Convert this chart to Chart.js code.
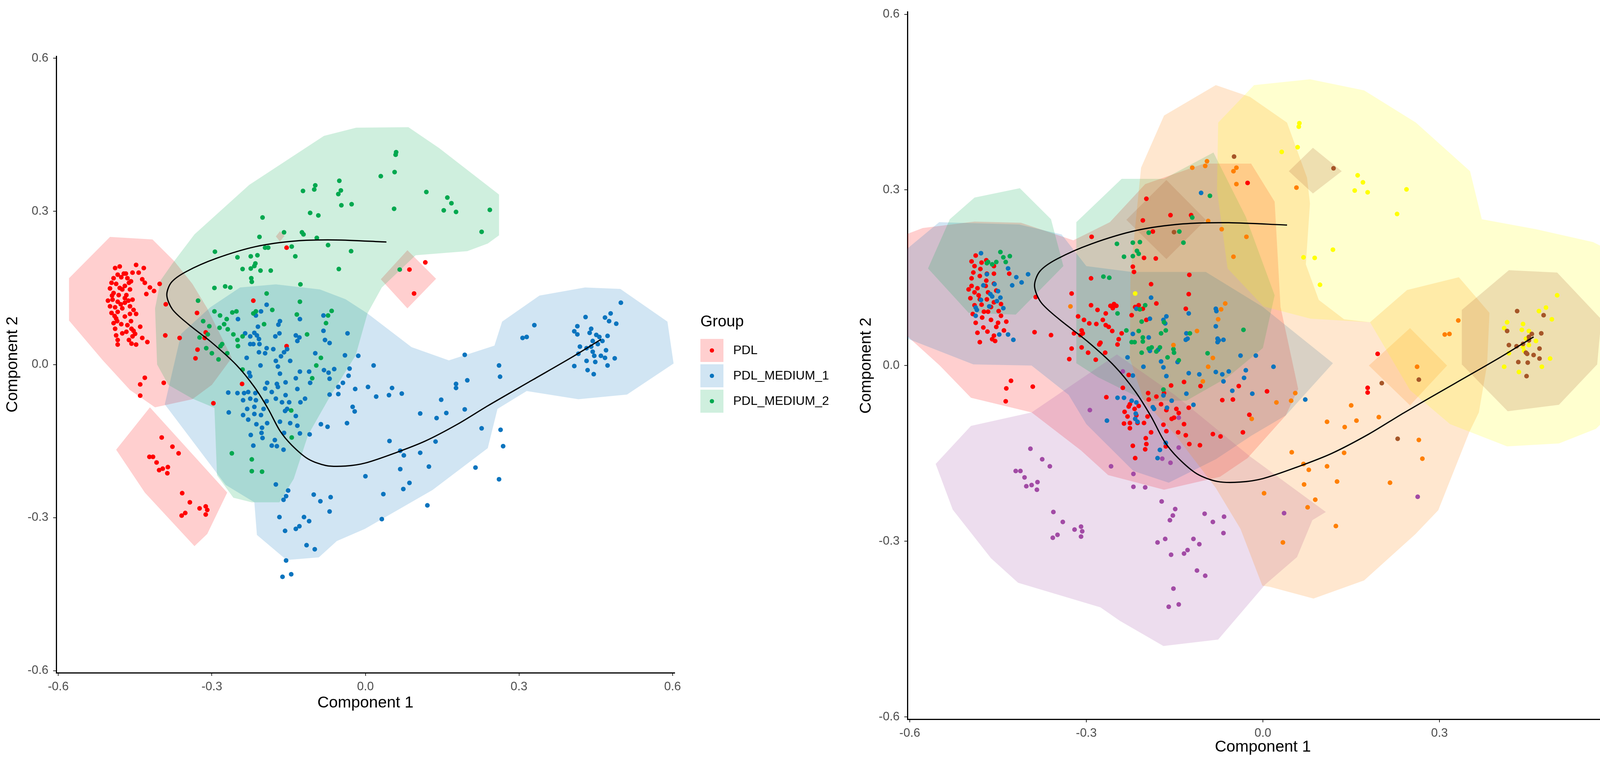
<!DOCTYPE html>
<html lang="en">
<head>
<meta charset="UTF-8">
<title>Component 1 / Component 2</title>
<script src="https://cdn.jsdelivr.net/npm/chart.js@4.4.1/dist/chart.umd.min.js"></script>
<style>
  html, body { margin: 0; padding: 0; background: #fff; }
  body { width: 4348px; height: 1990px; position: relative; overflow: hidden; }
  .panel { position: absolute; top: 0; height: 1990px; }
  #panelLeft { left: 0; width: 2174px; }
  #panelRight { left: 2180px; width: 2168px; }
</style>
</head>
<body>
<div class="panel" id="panelLeft"><canvas id="chartLeft"></canvas></div>
<div class="panel" id="panelRight"><canvas id="chartRight"></canvas></div>

<script>
// ---- axis ----
const axisTicks = [-0.6, -0.3, 0.0, 0.3, 0.6];
const xTitle = 'Component 1';
const yTitle = 'Component 2';

// ---- trajectory (same in both panels) ----
const trajectory = [[0.041,0.240],[-0.058,0.244],[-0.136,0.242],[-0.214,0.231],[-0.291,0.208],[-0.350,0.182],[-0.379,0.161],[-0.388,0.136],[-0.377,0.108],[-0.346,0.079],[-0.299,0.042],[-0.252,-0.001],[-0.217,-0.044],[-0.190,-0.087],[-0.167,-0.130],[-0.144,-0.158],[-0.112,-0.185],[-0.077,-0.198],[-0.039,-0.199],[0.000,-0.193],[0.059,-0.173],[0.117,-0.150],[0.180,-0.117],[0.239,-0.081],[0.327,-0.030],[0.403,0.014],[0.460,0.049]];

// ---- left panel groups ----
const leftGroups = ['PDL', 'PDL_MEDIUM_1', 'PDL_MEDIUM_2'];
const leftColors = ['#FF0000', '#0A74BE', '#00A84F'];

const pdl = [[-0.489,0.189],[-0.480,0.192],[-0.448,0.195],[-0.433,0.189],[-0.443,0.180],[-0.455,0.180],[-0.472,0.178],[-0.484,0.176],[-0.477,0.171],[-0.492,0.169],[-0.465,0.169],[-0.436,0.167],[-0.462,0.160],[-0.496,0.160],[-0.431,0.160],[-0.487,0.158],[-0.470,0.154],[-0.421,0.151],[-0.499,0.149],[-0.475,0.147],[-0.460,0.147],[-0.428,0.138],[-0.413,0.144],[-0.492,0.140],[-0.482,0.136],[-0.467,0.136],[-0.494,0.127],[-0.455,0.127],[-0.484,0.123],[-0.470,0.121],[-0.499,0.114],[-0.460,0.114],[-0.489,0.112],[-0.475,0.110],[-0.453,0.107],[-0.484,0.103],[-0.496,0.101],[-0.460,0.099],[-0.470,0.094],[-0.487,0.090],[-0.448,0.099],[-0.492,0.081],[-0.477,0.079],[-0.465,0.077],[-0.457,0.070],[-0.440,0.074],[-0.489,0.070],[-0.467,0.064],[-0.453,0.066],[-0.475,0.061],[-0.487,0.057],[-0.455,0.055],[-0.436,0.052],[-0.462,0.048],[-0.484,0.048],[-0.457,0.041],[-0.426,0.044],[-0.484,0.039],[-0.448,0.039],[-0.495,0.135],[-0.480,0.150],[-0.470,0.130],[-0.490,0.095],[-0.478,0.118],[-0.463,0.125],[-0.503,0.125],[-0.485,0.085],[-0.458,0.085],[-0.450,0.060],[-0.468,0.178],[-0.458,0.163],
  [-0.402,0.158],[-0.390,0.118],[-0.391,0.057],[-0.363,0.052],[-0.329,0.101],[-0.312,0.063],[-0.314,0.052],[-0.328,0.029],[-0.332,0.012],[-0.219,0.125],[-0.154,0.036],[-0.154,0.229],[-0.241,-0.038],[-0.431,-0.026],[-0.440,-0.039],[-0.394,-0.036],[-0.440,-0.061],[-0.297,-0.076],
  [-0.398,-0.143],[-0.377,-0.161],[-0.365,-0.174],[-0.422,-0.181],[-0.415,-0.181],[-0.408,-0.192],[-0.403,-0.207],[-0.396,-0.204],[-0.386,-0.201],[-0.387,-0.213],[-0.358,-0.252],[-0.343,-0.270],[-0.352,-0.291],[-0.359,-0.296],[-0.324,-0.282],[-0.312,-0.278],[-0.309,-0.285],[-0.312,-0.294],
  [0.117,0.200],[0.086,0.186],[0.095,0.139]];

const pdlMedium1 = [[-0.193,0.117],[-0.204,0.104],[-0.214,0.096],[-0.249,0.089],[-0.128,0.089],[-0.082,0.096],[-0.167,0.085],[-0.170,0.078],[-0.210,0.074],[-0.235,0.061],[-0.217,0.062],[-0.212,0.057],[-0.225,0.055],[-0.176,0.055],[-0.168,0.061],[-0.136,0.057],[-0.129,0.053],[-0.133,0.046],[-0.082,0.066],[-0.079,0.048],[-0.070,0.042],[-0.035,0.061],[-0.208,0.050],[-0.207,0.040],[-0.225,0.040],[-0.219,0.040],[-0.193,0.032],[-0.208,0.024],[-0.196,0.022],[-0.180,0.030],[-0.159,0.024],[-0.153,0.030],[-0.165,0.016],[-0.175,0.007],[-0.147,0.007],[-0.232,0.013],[-0.098,0.022],[-0.040,0.018],[-0.014,0.017],[0.016,-0.002],[-0.205,-0.002],[-0.171,-0.004],[-0.128,-0.014],[-0.110,-0.014],[-0.081,-0.011],[-0.072,-0.016],[-0.061,-0.009],[-0.031,-0.008],[-0.033,-0.022],[-0.167,-0.018],[-0.227,-0.016],[-0.225,-0.023],[-0.136,-0.027],[-0.070,-0.028],[-0.044,-0.036],[-0.108,-0.036],[-0.192,-0.036],[-0.173,-0.038],[-0.156,-0.035],[-0.171,-0.044],[-0.133,-0.048],[-0.268,-0.055],[-0.250,-0.056],[-0.237,-0.056],[-0.229,-0.054],[-0.215,-0.056],[-0.196,-0.047],[-0.183,-0.054],[-0.156,-0.060],[-0.053,-0.044],[-0.053,-0.058],[-0.020,-0.048],[0.005,-0.044],[0.021,-0.063],[0.046,-0.060],[0.052,-0.046],[0.071,-0.057],[-0.070,-0.059],[-0.239,-0.070],[-0.225,-0.067],[-0.214,-0.070],[-0.193,-0.072],[-0.175,-0.067],[-0.163,-0.074],[-0.149,-0.074],[-0.127,-0.074],[-0.118,-0.067],[-0.217,-0.083],[-0.231,-0.087],[-0.199,-0.087],[-0.157,-0.091],[-0.153,-0.087],[-0.267,-0.094],[-0.239,-0.099],[-0.217,-0.097],[-0.204,-0.099],[-0.136,-0.101],[-0.229,-0.108],[-0.192,-0.115],[-0.167,-0.112],[-0.147,-0.115],[-0.213,-0.117],[-0.133,-0.120],[-0.202,-0.124],[-0.087,-0.117],[-0.074,-0.122],[-0.036,-0.115],[-0.025,-0.083],[-0.021,-0.092],[0.107,-0.096],[0.139,-0.105],[0.158,-0.095],[0.194,-0.088],[0.148,-0.069],[0.177,-0.038],[0.177,-0.046],[0.194,0.019],[0.199,-0.031],[-0.224,-0.138],[-0.203,-0.134],[-0.177,-0.148],[-0.128,-0.135],[-0.109,-0.137],[-0.159,-0.134],[-0.201,-0.144],[-0.160,-0.167],[-0.173,-0.160],[-0.183,-0.159],[-0.219,-0.159],[0.047,-0.150],[0.137,-0.151],[0.075,-0.178],[0.068,-0.169],[0.107,-0.173],[0.068,-0.205],[0.124,-0.200],[0.000,-0.219],[0.086,-0.232],[0.074,-0.244],[-0.175,-0.235],[-0.151,-0.247],[-0.155,-0.258],[-0.160,-0.265],[-0.101,-0.255],[-0.088,-0.268],[-0.068,-0.260],[0.035,-0.254],[0.121,-0.276],
  [-0.168,-0.299],[-0.157,-0.326],[-0.136,-0.322],[-0.129,-0.317],[-0.120,-0.299],[-0.110,-0.307],[-0.070,-0.288],[-0.115,-0.354],[-0.099,-0.362],[-0.155,-0.384],[-0.162,-0.416],[-0.145,-0.411],[0.032,-0.303],
  [0.330,0.077],[0.307,0.052],[0.315,0.054],[0.261,-0.002],[0.263,-0.024],[0.227,-0.125],[0.264,-0.128],[0.269,-0.160],[0.215,-0.202],[0.261,-0.225],
  [0.499,0.121],[0.479,0.100],[0.468,0.092],[0.476,0.085],[0.490,0.080],[0.430,0.093],[0.414,0.075],[0.408,0.065],[0.414,0.059],[0.441,0.070],[0.438,0.062],[0.451,0.058],[0.457,0.054],[0.473,0.056],[0.444,0.046],[0.463,0.046],[0.454,0.040],[0.441,0.035],[0.419,0.035],[0.432,0.032],[0.470,0.028],[0.444,0.025],[0.447,0.017],[0.460,0.017],[0.416,0.021],[0.468,0.013],[0.487,0.012],[0.432,0.007],[0.449,0.005],[0.408,-0.003],[0.473,-0.002],[0.434,-0.011],[0.446,-0.019]];

const pdlMedium2 = [[0.060,0.416],[0.059,0.411],[0.057,0.377],[0.030,0.369],[0.119,0.338],[0.160,0.327],[0.168,0.316],[0.153,0.302],[0.177,0.299],[0.056,0.305],[0.243,0.303],[0.227,0.260],[-0.027,0.314],[-0.051,0.360],[-0.048,0.341],[-0.053,0.334],[-0.047,0.312],[-0.122,0.340],[-0.098,0.351],[-0.100,0.343],[-0.108,0.297],[-0.092,0.292],[0.067,0.186],[-0.028,0.222],
  [-0.201,0.288],[-0.159,0.259],[-0.124,0.259],[-0.121,0.255],[-0.207,0.250],[-0.095,0.248],[-0.073,0.234],[-0.144,0.231],[-0.196,0.229],[-0.190,0.229],[-0.294,0.221],[-0.250,0.210],[-0.224,0.212],[-0.211,0.214],[-0.137,0.212],[-0.215,0.198],[-0.217,0.193],[-0.240,0.187],[-0.224,0.188],[-0.205,0.184],[-0.185,0.184],[-0.052,0.187],[-0.223,0.169],[-0.222,0.162],[-0.295,0.150],[-0.274,0.153],[-0.264,0.151],[-0.127,0.157],[-0.193,0.139],[-0.327,0.125],[-0.128,0.123],[-0.295,0.104],[-0.284,0.096],[-0.260,0.102],[-0.252,0.104],[-0.219,0.100],[-0.214,0.104],[-0.182,0.107],[-0.134,0.098],[-0.066,0.105],[-0.073,0.096],[-0.317,0.085],[-0.271,0.089],[-0.276,0.079],[-0.305,0.075],[-0.285,0.072],[-0.198,0.079],[-0.077,0.081],[-0.269,0.069],[-0.258,0.059],[-0.308,0.059],[-0.324,0.053],[-0.240,0.055],[-0.250,0.048],[-0.114,0.059],[-0.311,0.032],[-0.283,0.036],[-0.280,0.040],[-0.300,0.022],[-0.287,0.010],[-0.270,0.022],[-0.249,0.036],[-0.087,0.013],[-0.096,-0.002],[-0.240,-0.010],[-0.104,-0.027],[-0.145,-0.090],[-0.144,-0.143],[-0.261,-0.174],[-0.222,-0.186],[-0.222,-0.209],[-0.202,-0.210]];

// left hull outlines (data units)
const pdlHullMain = [[-0.579,0.169],[-0.499,0.250],[-0.416,0.245],[-0.373,0.202],[-0.338,0.158],[-0.309,0.110],[-0.261,0.013],[-0.300,-0.040],[-0.338,-0.068],[-0.411,-0.084],[-0.460,-0.050],[-0.513,0.008],[-0.579,0.086]];
const pdlHullLow = [[-0.421,-0.084],[-0.487,-0.167],[-0.431,-0.251],[-0.334,-0.356],[-0.309,-0.332],[-0.270,-0.251]];
const pdlHullSide = [[0.030,0.167],[0.082,0.224],[0.138,0.168],[0.082,0.110]];
const pdlHullTiny = [[-0.175,0.251],[-0.167,0.261],[-0.158,0.252],[-0.167,0.241]];
const medium1Hull = [[-0.392,-0.078],[-0.360,0.060],[-0.303,0.112],[-0.245,0.151],[-0.175,0.157],[-0.089,0.147],[-0.039,0.128],[0.004,0.100],[0.090,0.034],[0.163,0.008],[0.252,0.037],[0.267,0.084],[0.340,0.135],[0.429,0.151],[0.498,0.148],[0.590,0.084],[0.602,0.002],[0.511,-0.059],[0.416,-0.068],[0.315,-0.052],[0.258,-0.087],[0.239,-0.164],[0.131,-0.246],[-0.001,-0.322],[-0.056,-0.346],[-0.091,-0.378],[-0.154,-0.383],[-0.212,-0.334],[-0.217,-0.270],[-0.273,-0.236]];
const medium2Hull = [[-0.400,0.165],[-0.377,0.198],[-0.334,0.255],[-0.227,0.352],[-0.081,0.448],[-0.018,0.464],[0.084,0.465],[0.144,0.424],[0.261,0.333],[0.261,0.253],[0.239,0.237],[0.199,0.222],[0.098,0.214],[0.032,0.151],[0.004,0.100],[-0.019,0.018],[-0.070,-0.064],[-0.112,-0.138],[-0.140,-0.224],[-0.168,-0.270],[-0.222,-0.270],[-0.258,-0.261],[-0.290,-0.217],[-0.295,-0.085],[-0.338,-0.067],[-0.385,-0.040],[-0.407,0.000],[-0.411,0.110]];

// ---- right panel groups ----
const rightGroups = ['0', '1', '2', '3', '4', '5', '6'];
const rightColors = ['#FF0000', '#0A74BE', '#00A84F', '#A24BA5', '#FF7F00', '#FFFF00', '#A65628'];

const cluster0 = [[-0.488,0.188],[-0.478,0.176],[-0.490,0.170],[-0.492,0.159],[-0.495,0.149],[-0.481,0.153],[-0.469,0.157],[-0.457,0.170],[-0.457,0.157],[-0.495,0.136],[-0.485,0.132],[-0.471,0.136],[-0.457,0.140],[-0.490,0.125],[-0.467,0.125],[-0.453,0.128],[-0.497,0.115],[-0.481,0.113],[-0.469,0.113],[-0.478,0.104],[-0.490,0.103],[-0.457,0.108],[-0.474,0.092],[-0.467,0.092],[-0.477,0.082],[-0.462,0.078],[-0.450,0.073],[-0.436,0.075],[-0.488,0.073],[-0.453,0.066],[-0.485,0.056],[-0.460,0.045],[-0.455,0.042],[-0.481,0.040],[-0.457,0.051],[-0.431,0.157],[-0.470,0.180],[-0.500,0.130],[-0.483,0.120],[-0.462,0.100],[-0.493,0.088],[-0.475,0.065],[-0.445,0.085],[-0.470,0.145],[-0.480,0.165],[-0.445,0.105],[-0.440,0.060],[-0.495,0.178],[-0.468,0.058],[-0.449,0.093],
  [-0.386,0.117],[-0.388,0.057],[-0.360,0.052],[-0.291,0.220],[-0.292,0.149],[-0.325,0.123],[-0.292,0.103],[-0.281,0.095],[-0.259,0.102],[-0.255,0.098],[-0.249,0.102],[-0.253,0.105],[-0.267,0.089],[-0.314,0.084],[-0.304,0.078],[-0.295,0.072],[-0.283,0.071],[-0.272,0.078],[-0.267,0.069],[-0.262,0.066],[-0.256,0.059],[-0.308,0.060],[-0.306,0.055],[-0.310,0.052],[-0.321,0.055],[-0.325,0.029],[-0.308,0.031],[-0.297,0.022],[-0.329,0.011],[-0.284,0.010],[-0.268,0.022],[-0.278,0.036],[-0.276,0.039],[-0.247,0.036],[-0.240,0.055],[-0.245,0.045],[-0.223,0.086],[-0.217,0.100],[-0.211,0.103],[-0.204,0.097],[-0.198,0.078],[-0.190,0.139],[-0.181,0.106],[-0.221,0.169],[-0.219,0.160],[-0.202,0.184],[-0.182,0.183],[-0.204,0.248],[-0.198,0.285],[-0.157,0.257],[-0.122,0.257],[-0.187,0.229],[-0.125,0.155],[-0.126,0.122],[-0.131,0.097],[-0.026,0.312],[-0.228,-0.016],[-0.238,-0.038],[-0.266,-0.054],[-0.226,-0.066],[-0.228,-0.070],[-0.218,-0.074],[-0.211,-0.069],[-0.235,-0.079],[-0.230,-0.087],[-0.215,-0.085],[-0.226,-0.098],[-0.213,-0.098],[-0.202,-0.098],[-0.196,-0.087],[-0.236,-0.099],[-0.226,-0.107],[-0.190,-0.114],[-0.199,-0.124],[-0.198,-0.134],[-0.221,-0.137],[-0.200,-0.143],[-0.217,-0.158],[-0.195,-0.047],[-0.181,-0.053],[-0.173,-0.066],[-0.194,-0.058],[-0.156,-0.034],[-0.168,-0.047],[-0.164,-0.076],[-0.147,-0.074],[-0.143,-0.081],[-0.151,-0.089],[-0.155,-0.091],[-0.169,-0.101],[-0.164,-0.112],[-0.144,-0.114],[-0.134,-0.100],[-0.131,-0.119],[-0.126,-0.072],[-0.134,-0.028],[-0.106,-0.035],[-0.125,-0.134],[-0.107,-0.136],[-0.165,-0.138],[-0.085,-0.117],[-0.072,-0.121],[-0.034,-0.114],[-0.069,-0.059],[-0.051,-0.058],[-0.041,-0.035],[-0.023,-0.084],[0.007,-0.044],[-0.428,-0.026],[-0.436,-0.039],[-0.437,-0.061],[-0.391,-0.036],[0.195,0.020],[0.178,-0.038],[0.178,-0.046]];

const cluster1 = [[-0.479,0.192],[-0.433,0.166],[-0.419,0.151],[-0.399,0.156],[-0.426,0.137],[-0.410,0.142],[-0.475,0.137],[-0.463,0.122],[-0.460,0.118],[-0.450,0.127],[-0.446,0.116],[-0.452,0.110],[-0.441,0.098],[-0.465,0.101],[-0.488,0.099],[-0.486,0.095],[-0.488,0.085],[-0.479,0.112],[-0.448,0.053],[-0.433,0.053],[-0.424,0.044],[-0.469,0.156],[-0.456,0.139],
  [-0.105,0.295],[-0.221,-0.017],[-0.190,0.116],[-0.215,0.097],[-0.192,0.080],[-0.169,0.078],[-0.164,0.084],[-0.166,0.072],[-0.221,0.054],[-0.194,0.048],[-0.130,0.055],[-0.128,0.046],[-0.131,0.044],[-0.126,0.089],[-0.080,0.097],[-0.079,0.093],[-0.080,0.067],[-0.077,0.046],[-0.075,0.043],[-0.067,0.044],[-0.077,0.040],[-0.230,0.014],[-0.203,-0.002],[-0.178,0.027],[-0.192,0.025],[-0.173,0.007],[-0.169,-0.003],[-0.164,-0.018],[-0.145,0.006],[-0.126,-0.013],[-0.108,-0.015],[-0.080,-0.011],[-0.069,-0.015],[-0.067,-0.027],[-0.058,-0.010],[-0.038,0.017],[-0.012,0.017],[-0.029,-0.008],[-0.032,-0.021],[0.018,-0.002],[-0.052,-0.043],[-0.018,-0.048],[0.072,-0.058],[-0.130,-0.048],[-0.118,-0.067],[-0.169,-0.051],[-0.155,-0.060],[-0.163,-0.072],[-0.187,-0.071],[-0.185,-0.074],[-0.247,-0.055],[-0.236,-0.055],[-0.223,-0.060],[-0.215,-0.063],[-0.216,-0.082],[-0.217,-0.091],[-0.213,-0.096],[-0.265,-0.094],[-0.175,-0.144],[-0.179,-0.158],[-0.165,-0.132]];

const cluster2 = [[-0.467,0.177],[-0.469,0.175],[-0.446,0.194],[-0.441,0.185],[-0.430,0.187],[-0.453,0.177],[-0.437,0.177],[-0.460,0.173],
  [-0.090,0.290],[-0.120,0.253],[-0.142,0.229],[-0.194,0.227],[-0.135,0.210],[-0.248,0.208],[-0.221,0.210],[-0.209,0.211],[-0.236,0.186],[-0.221,0.187],[-0.214,0.196],[-0.211,0.191],[-0.271,0.152],[-0.261,0.150],[-0.247,0.089],[-0.209,0.096],[-0.200,0.103],[-0.206,0.075],[-0.168,0.074],[-0.165,0.060],[-0.211,0.059],[-0.232,0.060],[-0.204,0.048],[-0.204,0.041],[-0.223,0.040],[-0.218,0.040],[-0.173,0.055],[-0.194,0.029],[-0.189,0.031],[-0.175,0.031],[-0.206,0.022],[-0.181,0.024],[-0.152,0.028],[-0.151,0.022],[-0.162,0.014],[-0.143,0.009],[-0.094,0.021],[-0.033,0.061],[-0.124,0.055],[-0.169,-0.041]];

const cluster3 = [[-0.294,-0.076],[-0.238,-0.010],[-0.258,-0.172],[-0.220,-0.185],[-0.220,-0.207],[-0.200,-0.208],[-0.171,-0.159],[-0.157,-0.166],[-0.143,-0.140],[-0.143,-0.089],[-0.172,-0.232],[-0.149,-0.245],[-0.153,-0.256],[-0.158,-0.264],[-0.179,-0.302],[-0.166,-0.296],[-0.156,-0.323],[-0.134,-0.321],[-0.128,-0.315],[-0.118,-0.296],[-0.108,-0.305],[-0.099,-0.253],[-0.085,-0.267],[-0.066,-0.258],[-0.067,-0.286],[-0.112,-0.350],[-0.098,-0.359],[-0.152,-0.381],[-0.160,-0.412],[-0.143,-0.408],[0.036,-0.252],[-0.395,-0.142],[-0.375,-0.160],[-0.362,-0.172],[-0.420,-0.180],[-0.412,-0.180],[-0.405,-0.191],[-0.402,-0.206],[-0.393,-0.204],[-0.383,-0.199],[-0.384,-0.212],[-0.356,-0.250],[-0.340,-0.267],[-0.320,-0.280],[-0.309,-0.275],[-0.307,-0.283],[-0.309,-0.292],[-0.349,-0.289],[-0.357,-0.294],[0.263,-0.224]];

const cluster4 = [[-0.120,0.338],[-0.098,0.341],[-0.095,0.349],[-0.050,0.332],[-0.045,0.338],[-0.045,0.310],[-0.093,0.247],[-0.070,0.233],[-0.028,0.220],[-0.050,0.186],[-0.327,0.101],[-0.064,0.106],[-0.071,0.096],[-0.076,0.079],[-0.112,0.059],[-0.152,0.035],[-0.085,0.013],[-0.093,-0.002],[-0.102,-0.027],[0.057,0.304],[0.055,-0.047],[0.048,-0.060],[0.023,-0.063],[-0.019,-0.091],[0.109,-0.096],[0.139,-0.105],[0.049,-0.148],[0.069,-0.168],[0.078,-0.178],[0.109,-0.172],[0.126,-0.198],[0.070,-0.203],[0.332,0.077],[0.309,0.053],[0.317,0.054],[0.262,-0.002],[0.150,-0.068],[0.197,-0.088],[0.159,-0.094],[0.265,-0.127],[0.271,-0.159],[0.138,-0.149],[0.216,-0.200],[0.002,-0.218],[0.089,-0.229],[0.076,-0.242],[0.124,-0.274],[0.034,-0.302]];

const cluster5 = [[0.062,0.414],[0.061,0.408],[0.032,0.365],[0.059,0.373],[0.161,0.325],[0.170,0.313],[0.156,0.299],[0.178,0.296],[0.244,0.301],[0.228,0.259],[0.119,0.198],[0.069,0.185],[0.088,0.184],[0.097,0.138],[0.500,0.120],[0.469,0.093],[0.481,0.099],[0.491,0.079],[0.415,0.074],[0.410,0.064],[0.442,0.071],[0.440,0.061],[0.452,0.059],[0.464,0.042],[0.447,0.046],[0.442,0.032],[0.418,0.021],[0.444,0.025],[0.488,0.012],[0.410,-0.002],[0.474,-0.002],[0.435,-0.011],[0.452,0.035],[-0.217,0.123]];

const cluster6 = [[0.120,0.337],[0.432,0.093],[0.477,0.086],[0.415,0.059],[0.457,0.054],[0.452,0.049],[0.473,0.055],[0.418,0.035],[0.431,0.033],[0.442,0.037],[0.452,0.043],[0.447,0.022],[0.449,0.020],[0.460,0.018],[0.470,0.029],[0.470,0.012],[0.434,0.006],[0.450,0.005],[0.448,-0.018],[0.202,-0.030],[0.265,-0.024],[0.229,-0.125],[-0.049,0.357],[-0.151,0.228]];

// right hull outlines (data units)
const c0Hull = [[-0.604,0.225],[-0.578,0.235],[-0.490,0.246],[-0.411,0.244],[-0.322,0.214],[-0.260,0.245],[-0.200,0.310],[-0.100,0.345],[-0.020,0.345],[0.020,0.280],[0.030,0.100],[0.060,-0.040],[0.039,-0.085],[-0.026,-0.158],[-0.073,-0.190],[-0.168,-0.212],[-0.263,-0.187],[-0.309,-0.145],[-0.393,-0.080],[-0.496,-0.055],[-0.549,0.000],[-0.604,0.050]];
const c1Hull = [[-0.604,0.200],[-0.550,0.245],[-0.414,0.241],[-0.342,0.224],[-0.300,0.170],[-0.223,0.160],[-0.097,0.160],[0.000,0.100],[0.119,0.004],[0.039,-0.085],[-0.020,-0.120],[-0.080,-0.160],[-0.160,-0.200],[-0.220,-0.180],[-0.300,-0.100],[-0.330,-0.050],[-0.393,0.000],[-0.492,0.002],[-0.604,0.046]];
const c2HullLeft = [[-0.569,0.166],[-0.532,0.250],[-0.490,0.287],[-0.413,0.303],[-0.360,0.250],[-0.339,0.170],[-0.420,0.087],[-0.500,0.090]];
const c2HullMid = [[-0.317,0.245],[-0.240,0.319],[-0.168,0.319],[-0.084,0.364],[-0.029,0.254],[0.020,0.120],[0.000,0.030],[-0.060,-0.020],[-0.130,-0.060],[-0.200,-0.060],[-0.280,-0.020],[-0.317,0.004]];
const c3Hull = [[-0.248,0.019],[-0.150,-0.050],[-0.022,-0.155],[0.107,-0.250],[0.084,-0.264],[0.058,-0.327],[0.004,-0.374],[-0.076,-0.468],[-0.169,-0.479],[-0.243,-0.436],[-0.276,-0.413],[-0.416,-0.371],[-0.462,-0.329],[-0.527,-0.246],[-0.556,-0.168],[-0.496,-0.103],[-0.393,-0.080]];
const c4Hull = [[-0.207,0.338],[-0.168,0.427],[-0.080,0.479],[-0.022,0.459],[0.041,0.415],[0.075,0.321],[0.080,0.277],[0.073,0.173],[0.095,0.112],[0.138,0.079],[0.182,0.074],[0.245,0.129],[0.333,0.151],[0.385,0.090],[0.381,0.002],[0.367,-0.080],[0.351,-0.113],[0.298,-0.247],[0.259,-0.288],[0.172,-0.367],[0.086,-0.398],[0.012,-0.378],[-0.001,-0.376],[-0.038,-0.279],[-0.080,-0.209],[-0.149,-0.118],[-0.202,-0.061],[-0.226,0.012],[-0.225,0.156]];
const c4HullSide = [[0.180,0.000],[0.250,0.064],[0.313,0.000],[0.250,-0.068]];
const c5Hull = [[-0.076,0.415],[-0.015,0.479],[0.080,0.489],[0.172,0.470],[0.260,0.415],[0.352,0.332],[0.372,0.250],[0.464,0.233],[0.561,0.211],[0.605,0.189],[0.605,-0.069],[0.566,-0.108],[0.503,-0.133],[0.415,-0.138],[0.318,-0.100],[0.250,-0.042],[0.182,0.074],[0.081,0.080],[0.001,0.101],[-0.060,0.166],[-0.078,0.300]];
const c6HullMain = [[0.418,0.163],[0.500,0.159],[0.575,0.079],[0.568,0.002],[0.503,-0.067],[0.416,-0.078],[0.338,0.002],[0.338,0.095]];
const c6HullTop = [[0.044,0.332],[0.085,0.372],[0.134,0.332],[0.085,0.294]];
const c6HullMid = [[-0.232,0.249],[-0.164,0.317],[-0.097,0.249],[-0.164,0.182]];

// ---- helpers ----
const FONT = '"Liberation Sans", Arial, Helvetica, sans-serif';
const HULL_ALPHA = 0.19;

function rgba(hex, a) {
    const n = parseInt(hex.slice(1), 16);
    return `rgba(${(n >> 16) & 255},${(n >> 8) & 255},${n & 255},${a})`;
}
const toXY = arr => arr.map(([x, y]) => ({ x, y }));

function hullSet(poly, color, order) {
    return {
        data: toXY(poly.concat([poly[0]])),
        showLine: true,
        fill: 'shape',
        backgroundColor: rgba(color, HULL_ALPHA),
        borderColor: 'rgba(0,0,0,0)',
        borderWidth: 0,
        pointRadius: 0,
        pointHoverRadius: 0,
        tension: 0,
        order: order
    };
}
function pointSet(label, arr, color, order) {
    return {
        label: label,
        data: toXY(arr),
        backgroundColor: color,
        borderWidth: 0,
        pointRadius: 6,
        pointHoverRadius: 6,
        order: order
    };
}
function trajectorySet() {
    return {
        data: toXY(trajectory),
        showLine: true,
        borderColor: '#000',
        borderWidth: 3.2,
        pointRadius: 0,
        pointHoverRadius: 0,
        tension: 0.3,
        fill: false,
        order: 0
    };
}
function fmt(v) {
    return Math.abs(v) < 1e-9 ? '0.0' : Number(v).toFixed(1);
}
function axis(position, title, size) {
    return {
        type: 'linear',
        position: position,
        min: -0.604,
        max: 0.604,
        afterBuildTicks: s => { s.ticks = axisTicks.map(v => ({ value: v })); },
        afterFit: s => { if (position === 'left') s.width = size; else s.height = size; },
        border: { display: true, color: '#000', width: 3 },
        grid: { drawOnChartArea: false, drawTicks: true, tickLength: 8, color: '#333', lineWidth: 2 },
        ticks: { color: '#4D4D4D', font: { size: 31, family: FONT }, padding: position === 'left' ? 12 : 10, callback: fmt, maxRotation: 0, autoSkip: false },
        title: { display: true, text: title, color: '#000', font: { size: 41, family: FONT }, padding: 0 }
    };
}

// legend drawn on the canvas beside the plot
const groupLegend = {
    id: 'groupLegend',
    afterDraw(chart, args, o) {
        const ctx = chart.ctx;
        ctx.save();
        ctx.textAlign = 'left';
        ctx.textBaseline = 'middle';
        ctx.fillStyle = '#000';
        ctx.font = `${o.titleSize}px ${FONT}`;
        ctx.fillText('Group', o.x, o.titleY);
        o.labels.forEach((lab, i) => {
            const top = o.top + i * o.pitch;
            const cy = top + o.size / 2;
            ctx.fillStyle = rgba(o.colors[i], HULL_ALPHA);
            ctx.fillRect(o.x, top, o.size, o.size);
            ctx.beginPath();
            ctx.arc(o.x + o.size / 2, cy, 5.5, 0, Math.PI * 2);
            ctx.fillStyle = o.colors[i];
            ctx.fill();
            ctx.fillStyle = '#000';
            ctx.font = `${o.textSize}px ${FONT}`;
            ctx.fillText(lab, o.textX, cy + 1);
        });
        ctx.restore();
    }
};

function makeChart(canvasId, datasets, pad, yW, xH, legendOpts) {
    return new Chart(document.getElementById(canvasId), {
        type: 'scatter',
        data: { datasets: datasets },
        options: {
            responsive: true,
            maintainAspectRatio: false,
            animation: false,
            events: [],
            layout: { padding: pad },
            scales: { x: axis('bottom', xTitle, xH), y: axis('left', yTitle, yW) },
            plugins: { legend: { display: false }, tooltip: { enabled: false }, groupLegend: legendOpts }
        },
        plugins: [groupLegend]
    });
}

// ---- left chart ----
const leftPoints = [pdl, pdlMedium1, pdlMedium2];
const leftSets = [
    hullSet(pdlHullMain, leftColors[0], 50),
    hullSet(pdlHullLow, leftColors[0], 50),
    hullSet(pdlHullSide, leftColors[0], 50),
    hullSet(pdlHullTiny, leftColors[0], 50),
    hullSet(medium1Hull, leftColors[1], 49),
    hullSet(medium2Hull, leftColors[2], 48)
];
leftGroups.forEach((g, i) => leftSets.push(pointSet(g, leftPoints[i], leftColors[i], 20 - i)));
leftSets.push(trajectorySet());

makeChart('chartLeft', leftSets, { left: 8, top: 144, right: 447, bottom: 165 }, 136, 102, {
    labels: leftGroups, colors: leftColors,
    x: 1793, titleY: 825, titleSize: 40, top: 868, pitch: 65, size: 59, textX: 1877, textSize: 32
});

// ---- right chart ----
const rightPoints = [cluster0, cluster1, cluster2, cluster3, cluster4, cluster5, cluster6];
const rightSets = [
    hullSet(c0Hull, rightColors[0], 50),
    hullSet(c1Hull, rightColors[1], 49),
    hullSet(c2HullLeft, rightColors[2], 48),
    hullSet(c2HullMid, rightColors[2], 48),
    hullSet(c3Hull, rightColors[3], 47),
    hullSet(c4Hull, rightColors[4], 46),
    hullSet(c4HullSide, rightColors[4], 46),
    hullSet(c5Hull, rightColors[5], 45),
    hullSet(c6HullMain, rightColors[6], 44),
    hullSet(c6HullTop, rightColors[6], 44),
    hullSet(c6HullMid, rightColors[6], 44)
];
rightGroups.forEach((g, i) => rightSets.push(pointSet(g, rightPoints[i], rightColors[i], 20 - i)));
rightSets.push(trajectorySet());

makeChart('chartRight', rightSets, { left: 13, top: 23, right: 205, bottom: 52 }, 130, 96, {
    labels: rightGroups, colors: rightColors,
    x: 2032, titleY: 695, titleSize: 40, top: 737, pitch: 66, size: 58, textX: 2115, textSize: 32
});
</script>
</body>
</html>
